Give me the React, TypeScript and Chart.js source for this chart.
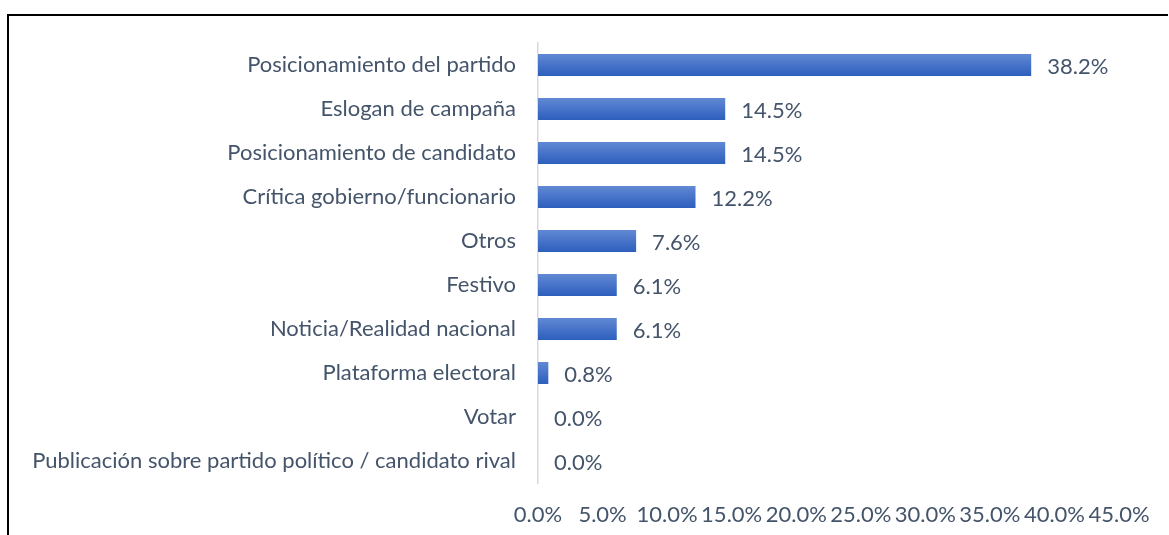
import React, { useEffect, useRef } from "react";
import { Chart, registerables } from "chart.js";

Chart.register(...registerables);

const categories: string[] = [
  "Posicionamiento del partido",
  "Eslogan de campaña",
  "Posicionamiento de candidato",
  "Crítica gobierno/funcionario",
  "Otros",
  "Festivo",
  "Noticia/Realidad nacional",
  "Plataforma electoral",
  "Votar",
  "Publicación sobre partido político / candidato rival",
];

const values: number[] = [38.2, 14.5, 14.5, 12.2, 7.6, 6.1, 6.1, 0.8, 0.0, 0.0];

const xMin = 0;
const xMax = 45;
const xStep = 5;

const FONT = "Lato, 'Noto Sans', sans-serif";
const FONT_SIZE = 22;
const TEXT = "#44546A";

const valueLabels = {
  id: "valueLabels",
  afterDatasetsDraw(chart: any) {
    const ctx = chart.ctx;
    const meta = chart.getDatasetMeta(0);
    ctx.save();
    ctx.font = `${FONT_SIZE}px ${FONT}`;
    ctx.fillStyle = TEXT;
    ctx.textAlign = "left";
    ctx.textBaseline = "middle";
    meta.data.forEach((bar: any, i: number) => {
      ctx.fillText(values[i].toFixed(1) + "%", bar.x + 16, bar.y + 1.5);
    });
    ctx.restore();
  },
};

export default function App() {
  const ref = useRef<HTMLCanvasElement | null>(null);

  useEffect(() => {
    if (!ref.current) return;
    const chart = new Chart(ref.current, {
      type: "bar",
      data: {
        labels: categories,
        datasets: [
          {
            data: values,
            backgroundColor: (c: any) => {
              const ys = c.chart.scales && c.chart.scales.y;
              if (!ys || c.dataIndex === undefined || !isFinite(ys.height)) return "#4472C4";
              const center = ys.getPixelForValue(c.dataIndex);
              const h = (ys.height / categories.length) * 0.5;
              const g = c.chart.ctx.createLinearGradient(0, center - h / 2, 0, center + h / 2);
              g.addColorStop(0, "#6189D3");
              g.addColorStop(0.5, "#4773C9");
              g.addColorStop(1, "#2D5FBD");
              return g;
            },
            borderWidth: 0,
            barPercentage: 0.5,
            categoryPercentage: 1,
          },
        ],
      },
      options: {
        indexAxis: "y",
        animation: false,
        responsive: false,
        maintainAspectRatio: false,
        layout: { padding: { top: 43, right: 50, bottom: 0, left: 0 } },
        plugins: {
          legend: { display: false },
          tooltip: { enabled: false },
          title: { display: false },
        },
        scales: {
          x: {
            min: xMin,
            max: xMax,
            grid: { display: false, drawTicks: false },
            border: { display: false },
            ticks: {
              stepSize: xStep,
              padding: 19,
              color: TEXT,
              font: { family: FONT, size: FONT_SIZE },
              maxRotation: 0,
              autoSkip: false,
              callback: (v: any) => Number(v).toFixed(1) + "%",
            },
            afterFit: (s: any) => {
              s.height = 52;
            },
          },
          y: {
            grid: { display: false, drawTicks: false },
            border: { display: true, color: "#D9D9D9", width: 1.5 },
            ticks: {
              padding: 22,
              color: TEXT,
              font: { family: FONT, size: FONT_SIZE },
              autoSkip: false,
            },
            afterFit: (s: any) => {
              s.width = 538;
            },
          },
        },
      },
      plugins: [valueLabels],
    });
    return () => chart.destroy();
  }, []);

  return (
    <div style={{ position: "absolute", left: 0, top: 0, width: 1169, height: 535, overflow: "hidden", background: "#fff" }}>
      <div
        style={{
          position: "absolute",
          left: 7,
          top: 14,
          width: 1161,
          height: 600,
          borderTop: "2px solid #000",
          borderLeft: "2px solid #000",
          boxSizing: "border-box",
        }}
      />
      <canvas ref={ref} width={1169} height={535} style={{ position: "absolute", left: 0, top: 0 }} />
    </div>
  );
}
